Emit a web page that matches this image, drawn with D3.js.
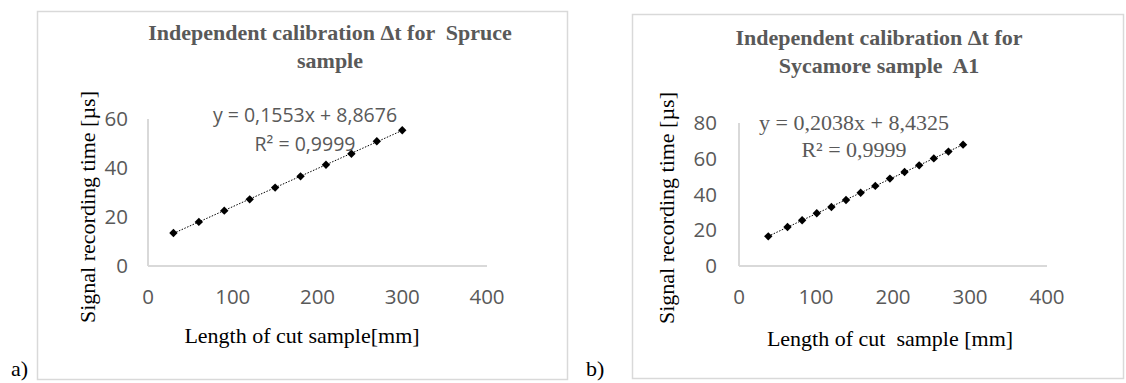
<!DOCTYPE html>
<html>
<head>
<meta charset="utf-8">
<script src="https://cdn.jsdelivr.net/npm/d3@7"></script>
<style>
	body { margin: 0; background: #fff; }
	svg { display: block; }
	.tick-lbl { font-family: 'Open Sans', sans-serif; font-size: 20.5px; fill: #595959; }
	.serif { font-family: 'Liberation Serif', 'Times New Roman', serif; }
</style>
</head>
<body>
<svg id="chart" width="1126" height="383"></svg>
<script>
	// panel a) spruce
	var spruceLength = [30, 60, 90, 120, 150, 180, 210, 240, 270, 300];
	var spruceTime = [13.5, 18.0, 22.6, 27.2, 32.0, 36.6, 41.3, 45.8, 50.9, 55.4];
	var spruceYTicks = [0, 20, 40, 60];

	// panel b) sycamore A1
	var sycamoreLength = [38, 63, 82, 101, 120, 139, 158, 177, 196, 215, 234, 253, 272, 291];
	var sycamoreTime = [16.6, 21.8, 25.6, 29.5, 33.0, 36.9, 41.0, 44.8, 48.9, 52.6, 56.3, 60.2, 64.0, 67.9];
	var sycamoreYTicks = [0, 20, 40, 60, 80];

	var xTicks = [0, 100, 200, 300, 400];

	var svg = d3.select('#chart');

	function drawPanel(p) {
		var g = svg.append('g');

		// frame
		g.append('rect')
			.attr('x', p.frame[0] + 0.5).attr('y', p.frame[1] + 0.5)
			.attr('width', p.frame[2]).attr('height', p.frame[3])
			.attr('fill', 'none').attr('stroke', '#d9d9d9').attr('stroke-width', 1.5);

		g.append('text').attr('class', 'serif')
			.attr('x', p.tag[0]).attr('y', p.tag[1])
			.style('font-size', '22px').attr('fill', '#000')
			.text(p.tagText);

		var x = d3.scaleLinear().domain([0, 400]).range([p.plot[0], p.plot[1]]);
		var y = d3.scaleLinear().domain([0, d3.max(p.yTicks)]).range([p.plot[3], p.plot[2]]);

		// axis lines
		g.append('line')
			.attr('x1', x(0)).attr('x2', x(400)).attr('y1', y(0)).attr('y2', y(0))
			.attr('stroke', '#d9d9d9').attr('stroke-width', 2);
		g.append('line')
			.attr('x1', x(0)).attr('x2', x(0)).attr('y1', y(0)).attr('y2', y(d3.max(p.yTicks)))
			.attr('stroke', '#d9d9d9').attr('stroke-width', 2);

		g.selectAll('.xt').data(xTicks).enter().append('text')
			.attr('class', 'tick-lbl')
			.attr('x', function(d){ return x(d); })
			.attr('y', y(0) + 38)
			.attr('text-anchor', 'middle')
			.text(function(d){ return d; });

		g.selectAll('.yt').data(p.yTicks).enter().append('text')
			.attr('class', 'tick-lbl')
			.attr('x', x(0) - p.yLblGap)
			.attr('y', function(d){ return y(d) + 7; })
			.attr('text-anchor', 'end')
			.text(function(d){ return d; });

		// least squares trendline from the data
		var mx = d3.mean(p.xs), my = d3.mean(p.ys);
		var num = d3.sum(p.xs, function(v, i){ return (v - mx) * (p.ys[i] - my); });
		var den = d3.sum(p.xs, function(v){ return (v - mx) * (v - mx); });
		var slope = num / den, icpt = my - slope * mx;
		var x0 = d3.min(p.xs), x1 = d3.max(p.xs);
		g.append('line')
			.attr('x1', x(x0)).attr('y1', y(slope * x0 + icpt))
			.attr('x2', x(x1)).attr('y2', y(slope * x1 + icpt))
			.attr('stroke', '#000').attr('stroke-width', 1)
			.attr('stroke-dasharray', '1.5,1.5');

		var diamond = d3.symbol().type(d3.symbolDiamond2).size(45);
		g.selectAll('.pt').data(p.xs).enter().append('path')
			.attr('d', diamond)
			.attr('transform', function(d, i){ return 'translate(' + x(d) + ',' + y(p.ys[i]) + ')'; })
			.attr('fill', '#000');

		// equation
		p.eq.forEach(function(line, i){
			g.append('text')
				.attr('class', p.eqSerif ? 'serif' : 'tick-lbl')
				.style('font-size', p.eqSize + 'px')
				.attr('fill', '#595959')
				.attr('x', p.eqPos[0]).attr('y', p.eqPos[1] + i * p.eqStep)
				.attr('text-anchor', 'middle')
				.text(line);
		});

		// title
		p.title.forEach(function(line, i){
			g.append('text').attr('class', 'serif')
				.style('font-size', '22px').style('font-weight', 'bold')
				.attr('fill', '#595959')
				.attr('x', p.titlePos[0]).attr('y', p.titlePos[1] + i * 28)
				.attr('text-anchor', 'middle')
				.style('white-space', 'pre')
				.text(line);
		});

		// axis titles
		g.append('text').attr('class', 'serif')
			.style('font-size', '22px').attr('fill', '#000')
			.attr('x', p.xTitle[0]).attr('y', p.xTitle[1])
			.attr('text-anchor', 'middle')
			.style('white-space', 'pre')
			.text(p.xLabel);

		g.append('text').attr('class', 'serif')
			.style('font-size', '22px').attr('fill', '#000')
			.attr('transform', 'translate(' + p.yTitle[0] + ',' + p.yTitle[1] + ') rotate(-90)')
			.attr('text-anchor', 'middle')
			.text('Signal recording time [\u00b5s]');
	}

	drawPanel({
		frame: [37, 11, 530, 368],
		tag: [11, 376], tagText: 'a)',
		plot: [148, 487, 119, 266],
		yTicks: spruceYTicks, yLblGap: 20,
		xs: spruceLength, ys: spruceTime,
		eq: ['y = 0,1553x + 8,8676', 'R\u00b2 = 0,9999'], eqSerif: false, eqSize: 19.5,
		eqPos: [305, 122], eqStep: 29,
		title: ['Independent calibration \u0394t for  Spruce', 'sample'],
		titlePos: [330, 40],
		xLabel: 'Length of cut sample[mm]', xTitle: [302, 343],
		yTitle: [95, 207]
	});

	drawPanel({
		frame: [632, 14, 491, 364],
		tag: [586, 376], tagText: 'b)',
		plot: [739, 1047, 123, 266],
		yTicks: sycamoreYTicks, yLblGap: 22,
		xs: sycamoreLength, ys: sycamoreTime,
		eq: ['y = 0,2038x + 8,4325', 'R\u00b2 = 0,9999'], eqSerif: true, eqSize: 22,
		eqPos: [854, 130], eqStep: 27,
		title: ['Independent calibration \u0394t for', 'Sycamore sample  A1'],
		titlePos: [879, 45],
		xLabel: 'Length of cut  sample [mm]', xTitle: [890, 346],
		yTitle: [674, 208]
	});
</script>
</body>
</html>
